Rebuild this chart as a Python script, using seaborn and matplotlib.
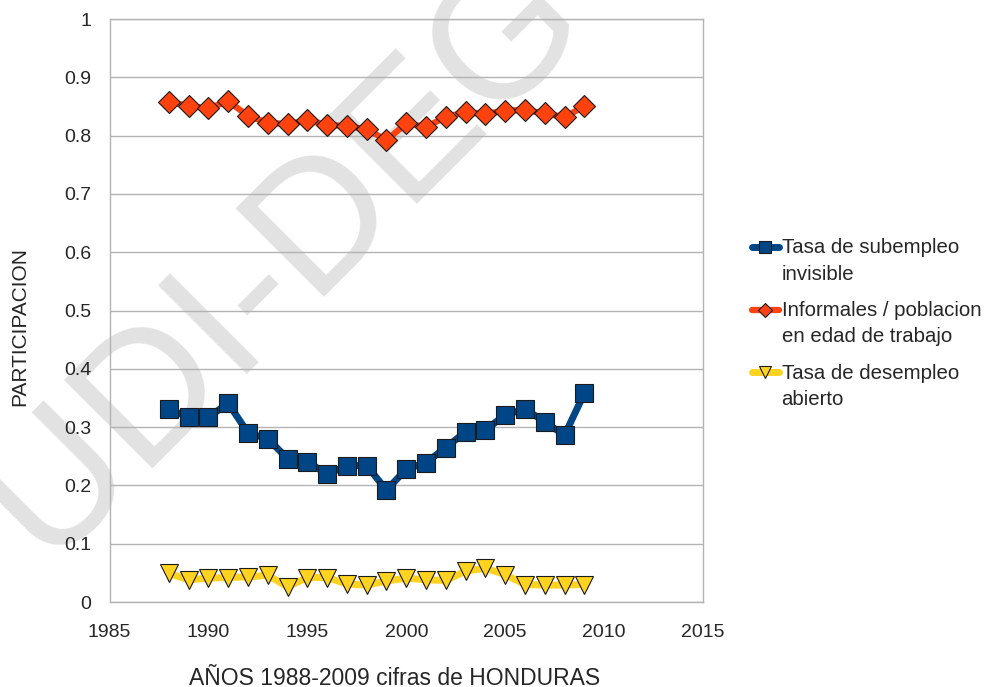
import numpy as np
import pandas as pd
import seaborn as sns
import matplotlib.pyplot as plt

# Datos (Honduras 1988-2009)
anios = list(range(1988, 2010))
subempleo_invisible = [0.331, 0.317, 0.317, 0.341, 0.290, 0.280, 0.246, 0.241, 0.219, 0.234, 0.234,
                       0.192, 0.228, 0.239, 0.265, 0.292, 0.295, 0.321, 0.331, 0.309, 0.286, 0.358]
informales = [0.858, 0.851, 0.847, 0.859, 0.834, 0.822, 0.820, 0.826, 0.819, 0.816, 0.811,
              0.792, 0.821, 0.815, 0.832, 0.840, 0.837, 0.843, 0.844, 0.838, 0.832, 0.850]
desempleo_abierto = [0.049, 0.038, 0.041, 0.042, 0.043, 0.046, 0.026, 0.042, 0.042, 0.031, 0.029,
                     0.036, 0.041, 0.038, 0.037, 0.053, 0.058, 0.047, 0.030, 0.029, 0.029, 0.030]

nombres = ["Tasa de subempleo\ninvisible",
           "Informales / poblacion\nen edad de trabajo",
           "Tasa de desempleo\nabierto"]
colores = ["#004586", "#ff420e", "#ffd320"]
marcadores = ["s", "D", "v"]
tam_marcador = [13.5, 11, 12.5]
ancho_linea = [5, 4.5, 5]
series = [subempleo_invisible, informales, desempleo_abierto]

sns.set_theme(style="white")
plt.rcParams['font.family'] = ['Liberation Sans', 'DejaVu Sans']

fig = plt.figure(figsize=(9.85, 6.87), dpi=100)
ax = fig.add_axes([0.1112, 0.1237, 0.6025, 0.8486])
ax.set_facecolor('none')

# Marca de agua
fig.text(46 / 985, 1 - 562 / 687, "UDI-DEG", rotation=45, rotation_mode='anchor', fontsize=131,
         color='#e2e2e2', ha='left', va='baseline', zorder=-5)

for nombre, valores, color, m, ms, lw in zip(nombres, series, colores, marcadores, tam_marcador, ancho_linea):
    df = pd.DataFrame({'anio': anios, 'valor': valores})
    sns.lineplot(data=df, x='anio', y='valor', ax=ax, color=color, linewidth=lw,
                 marker=m, markersize=ms, markerfacecolor=color, markeredgecolor='#1a1a1a',
                 markeredgewidth=0.8, label=nombre)

ax.set_xlim(1985, 2015)
ax.set_ylim(0, 1)
ax.set_xticks(range(1985, 2016, 5))
ax.set_yticks(np.arange(0, 1.01, 0.1))
ax.set_yticklabels(['0', '0.1', '0.2', '0.3', '0.4', '0.5', '0.6', '0.7', '0.8', '0.9', '1'])
ax.yaxis.grid(True, color='#b3b3b3', linewidth=1)
ax.xaxis.grid(False)
for s in ax.spines.values():
    s.set_color('#b3b3b3')
    s.set_linewidth(1)
ax.tick_params(axis='x', direction='out', length=5, width=1, color='#b3b3b3', pad=11, labelsize=14)
ax.tick_params(axis='y', direction='out', length=4, width=1, color='#b3b3b3', pad=9, labelsize=14)
ax.set_xlabel("AÑOS 1988-2009 cifras de HONDURAS", fontsize=16.5)
ax.set_ylabel("PARTICIPACION", fontsize=15)
ax.xaxis.set_label_coords(0.48, -0.111)
ax.yaxis.set_label_coords(-0.135, 0.473)

leg = ax.legend(loc='upper left', bbox_to_anchor=(752 / 985, 1 - 238 / 687), bbox_transform=fig.transFigure,
                frameon=False, fontsize=14.7, handlelength=1.3, handleheight=1.2, handletextpad=0.15,
                labelspacing=0.85, borderaxespad=0, borderpad=0, markerscale=0.65)
for t in leg.get_texts():
    t.set_linespacing(1.5)
# simbolo alineado con la primera linea del texto
for col in leg._legend_handle_box.get_children():
    for item in col.get_children():
        item.align = 'top'

fig.savefig('out.png', dpi=100)
